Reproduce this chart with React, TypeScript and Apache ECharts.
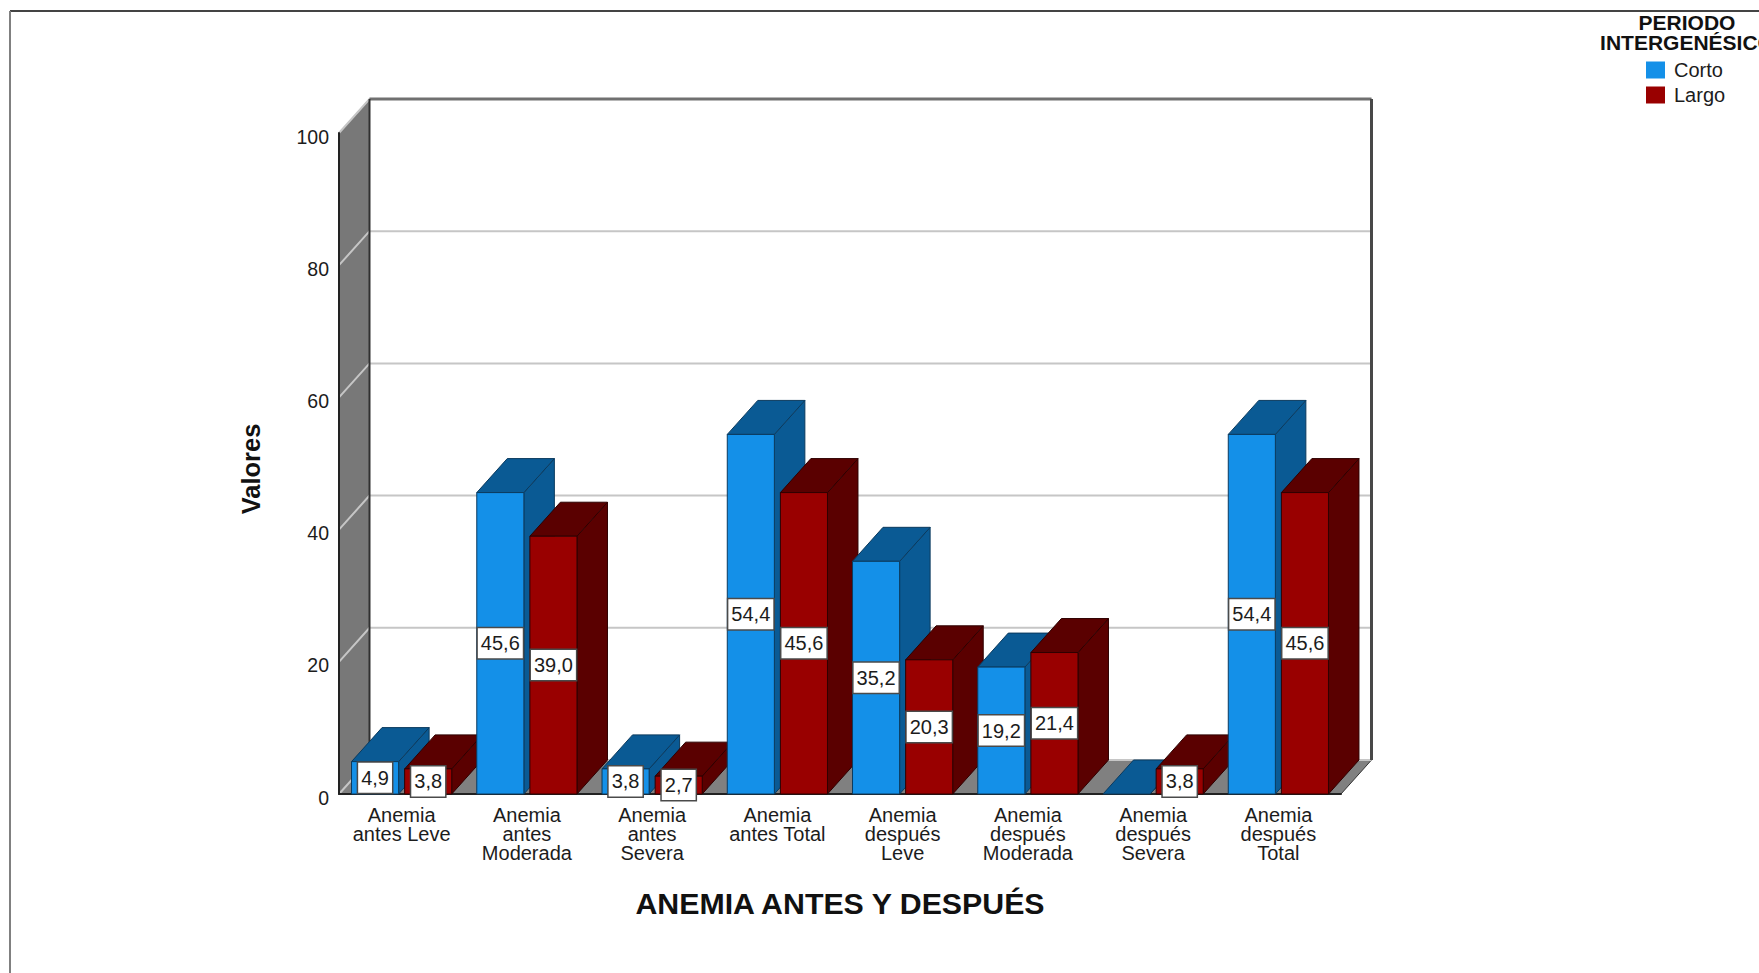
import React, { useEffect, useRef } from "react";
import * as echarts from "echarts";

const categories = [
  "Anemia\nantes Leve",
  "Anemia\nantes\nModerada",
  "Anemia\nantes\nSevera",
  "Anemia\nantes Total",
  "Anemia\ndespués\nLeve",
  "Anemia\ndespués\nModerada",
  "Anemia\ndespués\nSevera",
  "Anemia\ndespués\nTotal",
];
const corto = [4.9, 45.6, 3.8, 54.4, 35.2, 19.2, 0, 54.4];
const largo = [3.8, 39.0, 2.7, 45.6, 20.3, 21.4, 3.8, 45.6];
const yTicks = [0, 20, 40, 60, 80, 100];

const FONT = '"Liberation Sans", Arial, sans-serif';
const DX = 30.5;
const DY = -34;
const TEXT = "#1c1c1c";

function wallItem(params: any, api: any) {
  const cs = params.coordSys;
  const v = api.value(0);
  const y = api.coord([0, v])[1];
  const left = cs.x;
  const right = cs.x + cs.width;
  const bottom = cs.y + cs.height;
  const top = cs.y;
  const children: any[] = [];
  if (params.dataIndex === 0) {
    children.push({
      type: "polygon",
      z2: 1,
      shape: { points: [[left, top], [left + DX, top + DY], [left + DX, bottom + DY], [left, bottom]] },
      style: { fill: "#787878", stroke: "#2a2a2a", lineWidth: 1 },
    });
    children.push({
      type: "polygon",
      z2: 1,
      shape: { points: [[left, bottom], [right, bottom], [right + DX, bottom + DY], [left + DX, bottom + DY]] },
      style: { fill: "#808080", stroke: "#333333", lineWidth: 1 },
    });
    children.push({
      type: "line",
      z2: 3,
      shape: { x1: left + DX, y1: top + DY, x2: right + DX, y2: top + DY },
      style: { stroke: "#707070", lineWidth: 3 },
    });
    children.push({
      type: "line",
      z2: 3,
      shape: { x1: right + DX, y1: top + DY, x2: right + DX, y2: bottom + DY },
      style: { stroke: "#484848", lineWidth: 3 },
    });
    children.push({
      type: "line",
      z2: 3,
      shape: { x1: left + DX, y1: top + DY, x2: left + DX, y2: bottom + DY },
      style: { stroke: "#303030", lineWidth: 2 },
    });
  }
  children.push({
    type: "polyline",
    z2: 2,
    shape: { points: [[left, y], [left + DX, y + DY], [right + DX, y + DY]] },
    style: { fill: "none", stroke: "#c6c6c6", lineWidth: 2 },
  });
  return { type: "group", children };
}

function barRenderer(x0: number, x1: number, front: string, dark: string, line: string, order: number) {
  return (params: any, api: any) => {
    const cat = api.value(0);
    const val = api.value(1);
    const band = api.size([1, 0])[0];
    const center = api.coord([cat, 0])[0];
    const base = api.coord([cat, 0])[1];
    const topY = api.coord([cat, val])[1];
    const l = center + x0 * band;
    const r = center + x1 * band;
    const z = 10 + cat * 2 + order;
    const stroke = { stroke: line, lineWidth: 1, lineJoin: "round" };
    const children: any[] = [
      {
        type: "polygon",
        z2: z,
        shape: { points: [[r, topY], [r + DX, topY + DY], [r + DX, base + DY], [r, base]] },
        style: { fill: dark, ...stroke },
      },
      {
        type: "polygon",
        z2: z,
        shape: { points: [[l, topY], [r, topY], [r + DX, topY + DY], [l + DX, topY + DY]] },
        style: { fill: dark, ...stroke },
      },
    ];
    if (val > 0) {
      children.push({
        type: "rect",
        z2: z,
        shape: { x: l, y: topY, width: r - l, height: base - topY },
        style: { fill: front, ...stroke },
      });
      children.push({
        type: "text",
        z2: 1000,
        style: {
          text: val.toFixed(1).replace(".", ","),
          x: (l + r) / 2,
          y: (topY + base) / 2,
          align: "center",
          verticalAlign: "middle",
          font: `20px ${FONT}`,
          fill: TEXT,
          backgroundColor: "#ffffff",
          borderColor: "#4a4a4a",
          borderWidth: 1.5,
          padding: [6, 3, 4, 3],
        },
      });
    }
    return { type: "group", children };
  };
}

export default function App() {
  const ref = useRef<HTMLDivElement>(null);
  useEffect(() => {
    const chart = echarts.init(ref.current!, undefined, { renderer: "svg" });
    chart.setOption({
      animation: false,
      backgroundColor: "#ffffff",
      textStyle: { fontFamily: FONT },
      grid: { left: 339, top: 133, width: 1002, height: 661, containLabel: false },
      xAxis: {
        type: "category",
        data: categories,
        z: 3,
        axisLine: { show: true, lineStyle: { color: "#222222", width: 2 } },
        axisTick: { show: false },
        axisLabel: { color: TEXT, fontSize: 20, lineHeight: 19, margin: 11, interval: 0, fontFamily: FONT },
        name: "ANEMIA ANTES Y DESPUÉS",
        nameLocation: "middle",
        nameGap: 94,
        nameTextStyle: { color: "#111111", fontSize: 30.3, fontWeight: "bold", fontFamily: FONT },
      },
      yAxis: {
        type: "value",
        min: 0,
        max: 100,
        interval: 20,
        z: 3,
        axisLine: { show: true, lineStyle: { color: "#222222", width: 2 } },
        axisTick: { show: false },
        splitLine: { show: false },
        axisLabel: {
          margin: 10,
          formatter: "{t|{value}}",
          rich: { t: { color: TEXT, fontSize: 19.5, fontFamily: FONT, padding: [7, 0, 0, 0] } },
        },
        name: "Valores",
        nameLocation: "middle",
        nameGap: 75,
        nameTextStyle: { color: "#111111", fontSize: 25.5, fontWeight: "bold", fontFamily: FONT, padding: [0, 11, 0, 0] },
      },
      legend: {
        data: ["Corto", "Largo"],
        orient: "vertical",
        left: 1646,
        top: 60,
        itemWidth: 19,
        itemHeight: 17,
        itemGap: 5,
        icon: "rect",
        padding: 0,
        textStyle: { color: TEXT, fontSize: 20, lineHeight: 17, fontFamily: FONT, padding: [2, 0, 0, 4] },
      },
      graphic: [
        { type: "line", shape: { x1: 10, y1: 11, x2: 1759, y2: 11 }, style: { stroke: "#444444", lineWidth: 2 } },
        { type: "line", shape: { x1: 10, y1: 11, x2: 10, y2: 973 }, style: { stroke: "#808080", lineWidth: 2 } },
        {
          type: "text",
          x: 1687,
          y: 12,
          style: {
            text: "PERIODO\nINTERGENÉSICO",
            align: "center",
            verticalAlign: "top",
            font: `bold 21px ${FONT}`,
            lineHeight: 20,
            fill: "#111111",
          },
        },
      ],
      series: [
        {
          type: "custom",
          name: "walls",
          z: 1,
          silent: true,
          data: yTicks.map((t) => [t]),
          encode: { y: 0 },
          renderItem: wallItem,
        },
        {
          type: "custom",
          name: "Corto",
          z: 4,
          itemStyle: { color: "#1490E8" },
          data: corto.map((v, i) => [i, v]),
          encode: { x: 0, y: 1 },
          renderItem: barRenderer(-0.4, -0.024, "#1490E8", "#0A5A94", "#0B3A5E", 0),
        },
        {
          type: "custom",
          name: "Largo",
          z: 4,
          itemStyle: { color: "#990000" },
          data: largo.map((v, i) => [i, v]),
          encode: { x: 0, y: 1 },
          renderItem: barRenderer(0.024, 0.4, "#990000", "#5A0000", "#2E0000", 1),
        },
      ],
    });
    return () => chart.dispose();
  }, []);
  return (
    <div style={{ position: "absolute", left: 0, top: 0, width: 1759, height: 973, overflow: "hidden" }}>
      <div ref={ref} style={{ width: 1759, height: 973 }} />
    </div>
  );
}
